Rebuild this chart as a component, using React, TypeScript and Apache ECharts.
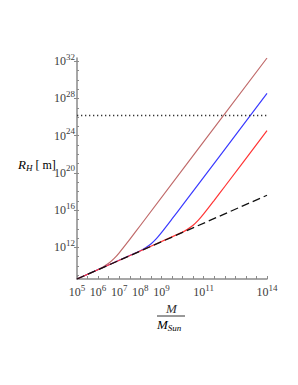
import React, { useEffect, useRef } from "react";
import * as echarts from "echarts";

// log10(M / M_Sun) vs log10(R_H / m)
const schwarzschild: [number, number][] = [[5, 8.6], [14, 17.6]];
const brownCurve: [number, number][] = [
  [5, 8.6], [6, 9.62], [6.25, 9.92], [6.5, 10.29], [6.75, 10.79], [7, 11.42], [7.5, 12.86], [8, 14.35], [14, 32.35],
];
const blueCurve: [number, number][] = [
  [5, 8.6], [8, 11.64], [8.25, 11.96], [8.5, 12.37], [8.75, 12.92], [9, 13.59], [9.5, 15.05], [10, 16.54], [14, 28.54],
];
const redCurve: [number, number][] = [
  [5, 8.6], [10, 13.64], [10.25, 13.96], [10.5, 14.37], [10.75, 14.92], [11, 15.59], [11.5, 17.05], [12, 18.54], [14, 24.54],
];
const hubbleRadius = 26.17;

const xLabelValues = [5, 6, 7, 8, 9, 11, 14];
const xTickValues = [5, 5.5, 6, 6.5, 7, 7.5, 8, 8.5, 9, 9.5, 10, 10.5, 11, 11.5, 12, 12.5, 13, 13.5, 14];
const yLabelValues = [12, 16, 20, 24, 28, 32];
const yMinorTickValues = [9, 10, 11, 12, 13, 14, 15, 16, 17, 18, 19, 20, 21, 22, 23, 24, 25, 26, 27, 28, 29, 30, 31, 32];

const SERIF = "Liberation Serif";

export default function App() {
  const ref = useRef<HTMLDivElement>(null);
  useEffect(() => {
    if (!ref.current) return;
    const chart = echarts.init(ref.current, null, { renderer: "svg" });
    const powRich = {
      b: { fontFamily: SERIF, fontSize: 12, color: "#3c3c3c", lineHeight: 14 },
      s: { fontFamily: SERIF, fontSize: 9, color: "#3c3c3c", padding: [0, 0, 9, 0] },
    };
    const axisLineStyle = { color: "#8a8a8a", width: 1.5 };
    chart.setOption({
      animation: false,
      grid: { left: 77, top: 58, width: 190, height: 221 },
      xAxis: {
        type: "value",
        min: 5,
        max: 14,
        axisLine: { show: true, lineStyle: axisLineStyle },
        axisTick: { show: true, inside: true, length: 3, customValues: xTickValues, lineStyle: { color: "#8a8a8a" } },
        axisLabel: {
          customValues: xLabelValues,
          margin: 4,
          color: "#3c3c3c",
          formatter: (v: number) => `{b|10}{s|${v}}`,
          rich: powRich,
        },
        splitLine: { show: false },
      },
      yAxis: [
        {
          type: "value",
          min: 8.6,
          max: 32.35,
          axisLine: { show: true, lineStyle: axisLineStyle },
          axisTick: { show: true, inside: false, length: 3, customValues: yLabelValues, lineStyle: { color: "#8a8a8a" } },
          axisLabel: {
            customValues: yLabelValues,
            margin: 2,
            color: "#3c3c3c",
            formatter: (v: number) => `{b|10}{s|${v}}`,
            rich: powRich,
          },
          splitLine: { show: false },
        },
        {
          type: "value",
          min: 8.6,
          max: 32.35,
          position: "left",
          axisLine: { show: false },
          axisTick: { show: true, inside: true, length: 2, customValues: yMinorTickValues, lineStyle: { color: "#8a8a8a" } },
          axisLabel: { show: false },
          splitLine: { show: false },
        },
      ],
      series: [
        {
          type: "line", data: brownCurve, smooth: 0.3, symbol: "none",
          lineStyle: { color: "#c06a6a", width: 1.2 },
        },
        {
          type: "line", data: blueCurve, smooth: 0.3, symbol: "none",
          lineStyle: { color: "#3a3aff", width: 1.2 },
        },
        {
          type: "line", data: redCurve, smooth: 0.3, symbol: "none",
          lineStyle: { color: "#ff3535", width: 1.2 },
        },
        {
          type: "line", data: schwarzschild, symbol: "none",
          lineStyle: { color: "#111", width: 1.3, type: [8, 4] },
        },
        {
          type: "line", data: [[5, hubbleRadius], [14, hubbleRadius]], symbol: "none",
          lineStyle: { color: "#333", width: 1.3, type: [1.3, 2.7] },
        },
      ],
      graphic: [
        {
          type: "text",
          left: 18,
          top: 158,
          style: {
            text: "{r|R}{h|H}{m| [ m]}",
            rich: {
              r: { fontFamily: SERIF, fontStyle: "italic", fontSize: 13, color: "#333" },
              h: { fontFamily: SERIF, fontStyle: "italic", fontSize: 9, color: "#333", padding: [6, 0, 0, 0] },
              m: { fontFamily: SERIF, fontSize: 12, color: "#333" },
            },
          },
        },
        {
          type: "text",
          left: 166,
          top: 302,
          style: { text: "M", fontFamily: SERIF, fontStyle: "italic", fontSize: 13, fill: "#333" },
        },
        {
          type: "line",
          shape: { x1: 157, y1: 316, x2: 185, y2: 316 },
          style: { stroke: "#333", lineWidth: 1 },
        },
        {
          type: "text",
          left: 157,
          top: 318,
          style: {
            text: "{r|M}{h|Sun}",
            rich: {
              r: { fontFamily: SERIF, fontStyle: "italic", fontSize: 13, color: "#333" },
              h: { fontFamily: SERIF, fontStyle: "italic", fontSize: 9, color: "#333", padding: [7, 0, 0, 0] },
            },
          },
        },
      ],
    });
    return () => chart.dispose();
  }, []);
  return (
    <div
      ref={ref}
      style={{ position: "absolute", left: 0, top: 0, width: 298, height: 385 }}
    />
  );
}
